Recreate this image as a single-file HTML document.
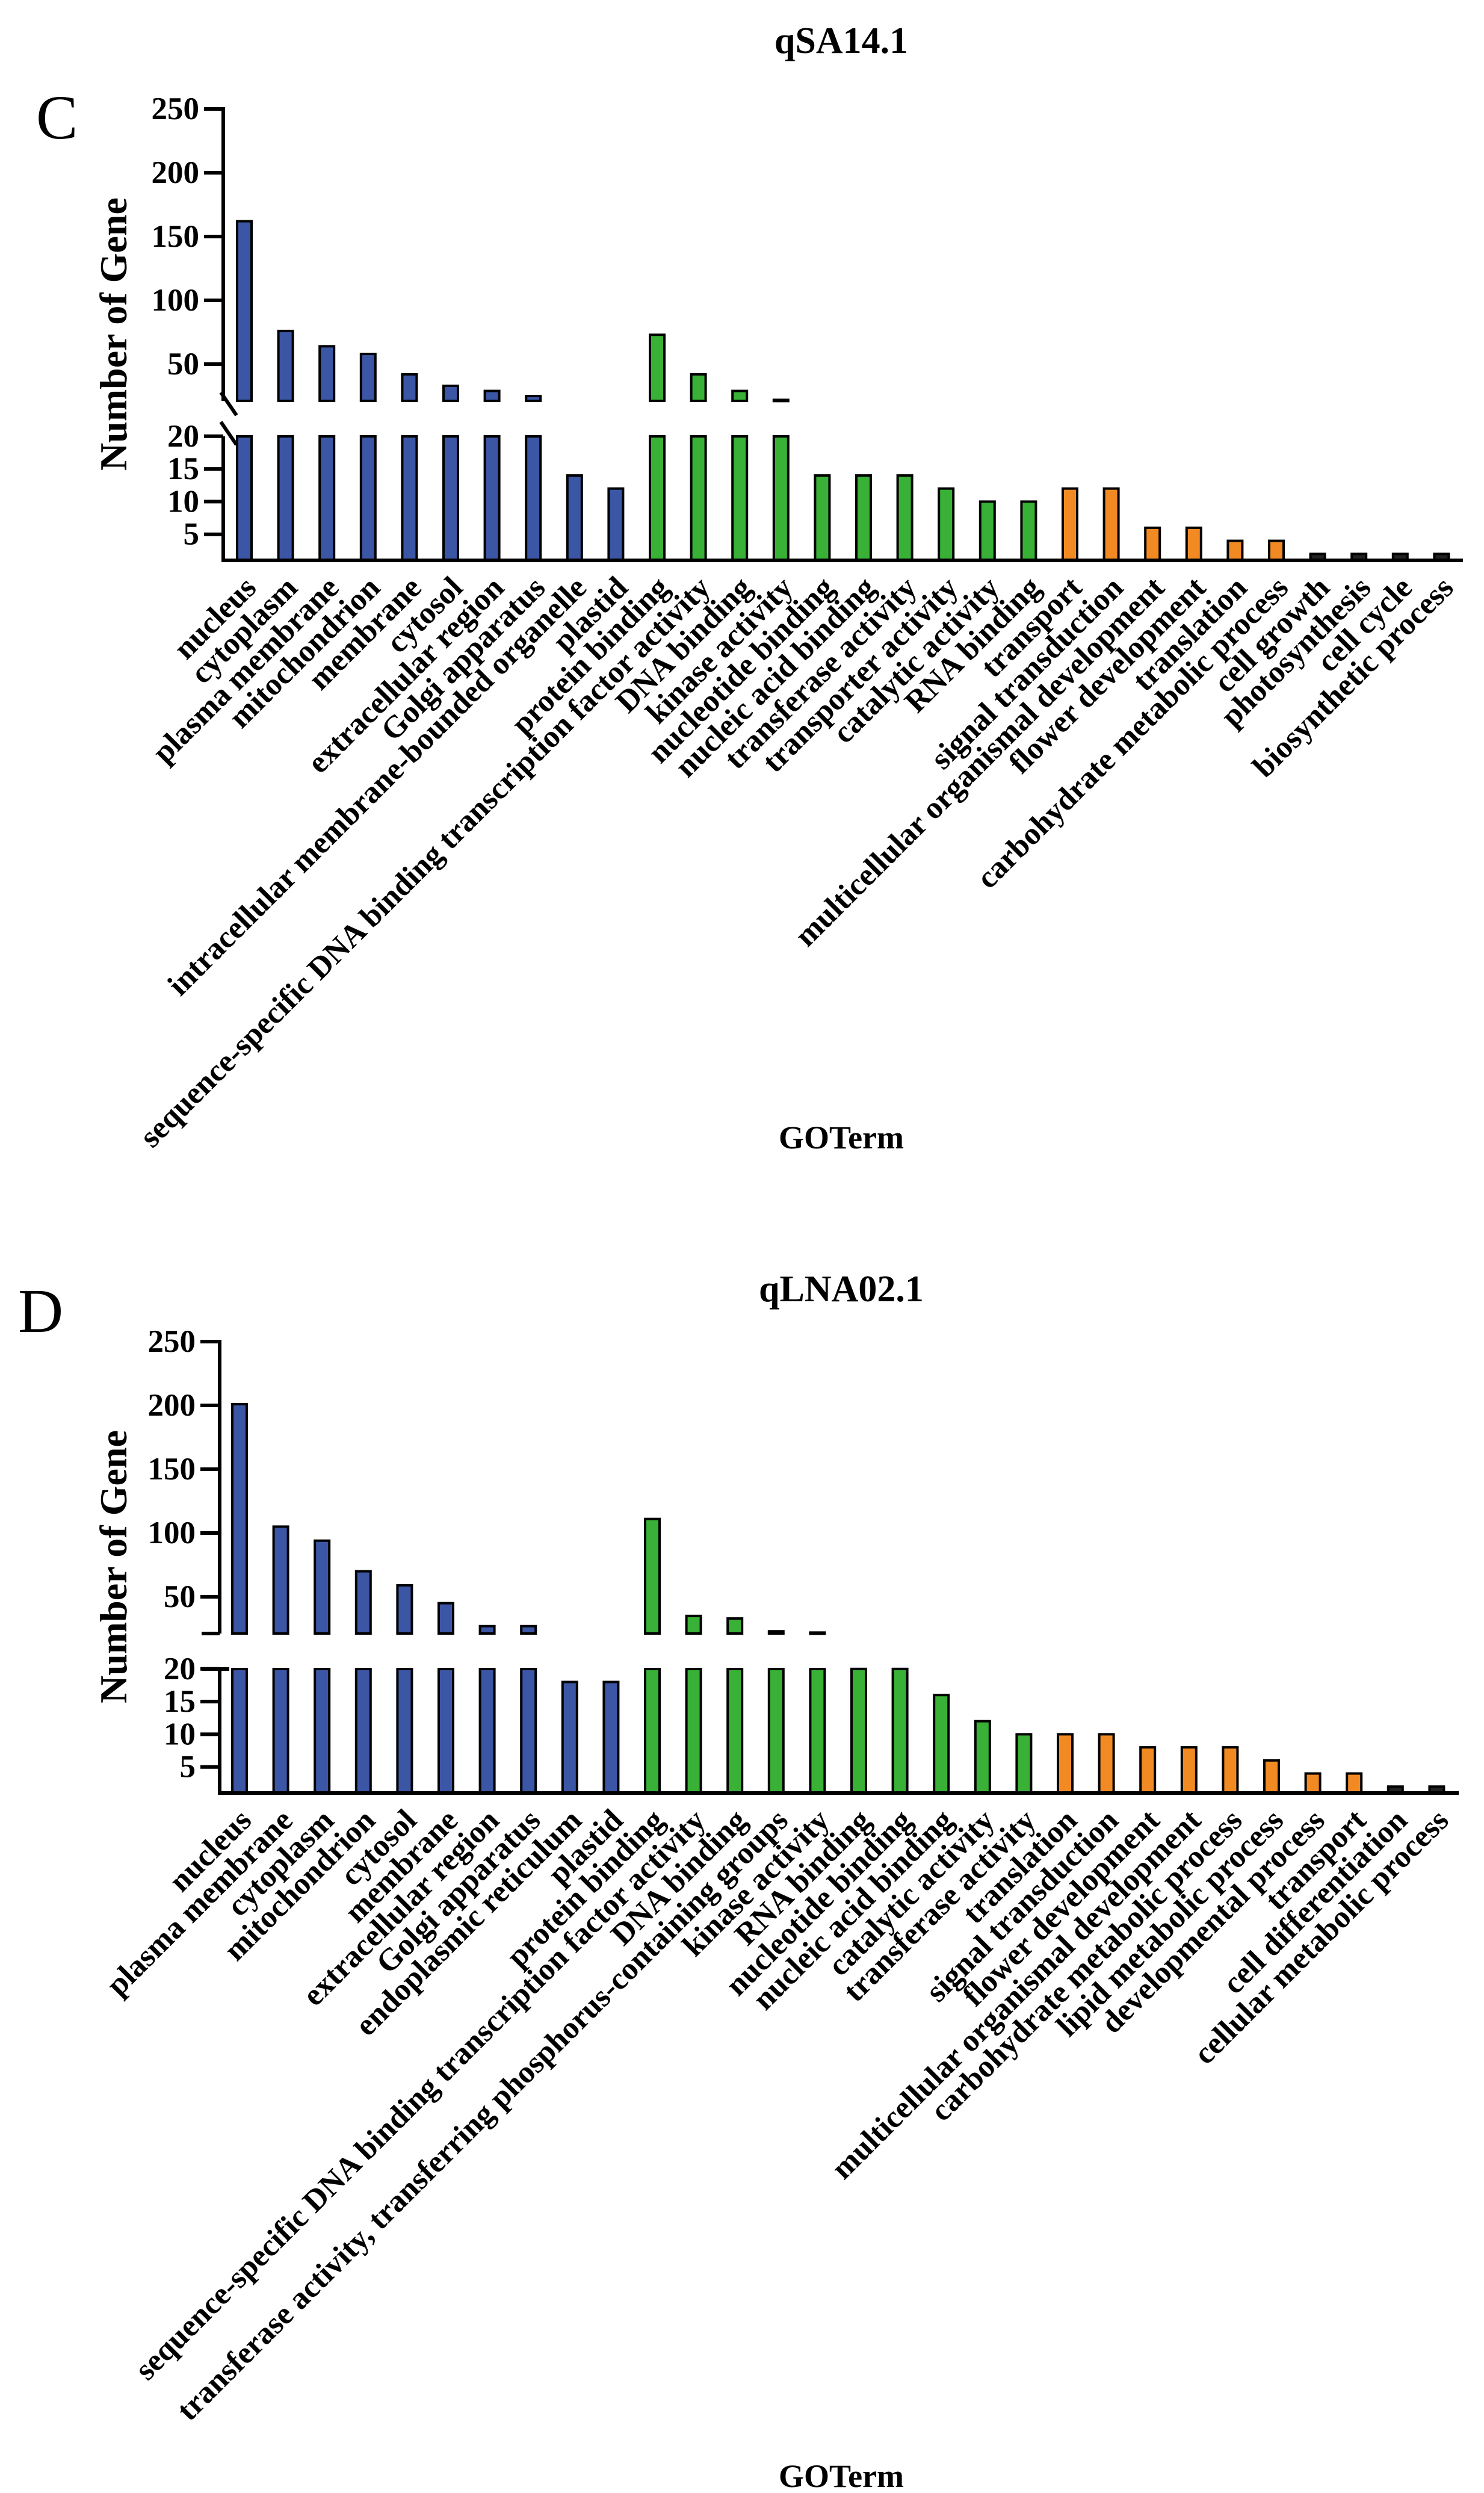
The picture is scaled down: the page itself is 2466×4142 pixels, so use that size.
<!DOCTYPE html>
<html><head><meta charset="utf-8"><style>
html,body{margin:0;padding:0;background:#fff}
svg{display:block}
text{font-family:"Liberation Serif",serif;fill:#000}
</style></head><body>
<svg id="fig" width="2466" height="4142" viewBox="0 0 2466 4142" xmlns="http://www.w3.org/2000/svg"></svg>
<script>
const catsC = ["nucleus","cytoplasm","plasma membrane","mitochondrion","membrane","cytosol","extracellular region","Golgi apparatus","intracellular membrane-bounded organelle","plastid","protein binding","sequence-specific DNA binding transcription factor activity","DNA binding","kinase activity","nucleotide binding","nucleic acid binding","transferase activity","transporter activity","catalytic activity","RNA binding","transport","signal transduction","multicellular organismal development","flower development","translation","carbohydrate metabolic process","cell growth","photosynthesis","cell cycle","biosynthetic process"];
const valsC = [162,76,64,58,42,33,29,25,14,12,73,42,29,22,14,14,14,12,10,10,12,12,6,6,4,4,2,2,2,2];
const groupsC = [0,0,0,0,0,0,0,0,0,0,1,1,1,1,1,1,1,1,1,1,2,2,2,2,2,2,3,3,3,3];
const catsD = ["nucleus","plasma membrane","cytoplasm","mitochondrion","cytosol","membrane","extracellular region","Golgi apparatus","endoplasmic reticulum","plastid","protein binding","sequence-specific DNA binding transcription factor activity","DNA binding","transferase activity, transferring phosphorus-containing groups","kinase activity","RNA binding","nucleotide binding","nucleic acid binding","catalytic activity","transferase activity","translation","signal transduction","flower development","multicellular organismal development","carbohydrate metabolic process","lipid metabolic process","developmental process","transport","cell differentiation","cellular metabolic process"];
const valsD = [201,105,94,70,59,45,27,27,18,18,111,35,33,23,22,20,20,16,12,10,10,10,8,8,8,6,4,4,2,2];
const groupsD = [0,0,0,0,0,0,0,0,0,0,1,1,1,1,1,1,1,1,1,1,2,2,2,2,2,2,2,2,3,3];
const upperTicks = [50,100,150,200,250];
const lowerTicks = [5,10,15,20];

const NS="http://www.w3.org/2000/svg";
const svg=document.getElementById('fig');
const colors=["#3b56a5","#38b136","#f28a24","#222"];
function mk(tag,attrs,parent){const e=document.createElementNS(NS,tag);for(const k in attrs)e.setAttribute(k,attrs[k]);(parent||svg).appendChild(e);return e;}

function drawChart(off,cfg){
  const g=mk('g',{});
  
  
  const axX=cfg.axX, x0=cfg.x0, step=cfg.step;
  const yU=v=>off+605-(v-50)*2.12;
  const yL=v=>off+942-v*10.86;
  const brkU=off+666, brkL=off+725, base=off+931;
  const xc=i=>x0+i*step;
  const L=mk('text',{x:cfg.letterX,y:off+cfg.letterY,'font-size':104},g);L.textContent=cfg.letter;
  
  
  const T=mk('text',{x:1398,y:off+cfg.titleY,'font-size':62,'font-weight':'bold','text-anchor':'middle'},g);T.textContent=cfg.title;
  
  
  const Y=mk('text',{x:0,y:0,'font-size':64,'font-weight':'bold','text-anchor':'middle',transform:`translate(210,${off+555}) rotate(-90)`},g);Y.textContent="Number of Gene";
  
  
  const X=mk('text',{x:1398,y:off+cfg.xtY,'font-size':54,'font-weight':'bold','text-anchor':'middle'},g);X.textContent="GOTerm";
  
  
  cfg.vals.forEach((v,i)=>{
    const fill=colors[cfg.groups[i]];
    const w=24, x=xc(i)-w/2;
    if(v>20){
      const top=yU(v);
      const r=mk('rect',{x:x,y:top,width:w,height:Math.max(brkU-top,2),fill:fill,stroke:'#000','stroke-width':4},g);
      
      
      const r2=mk('rect',{x:x,y:brkL,width:w,height:base-brkL,fill:fill,stroke:'#000','stroke-width':4},g);
      
      
    } else {
      const top=yL(v);
      const r=mk('rect',{x:x,y:top,width:w,height:Math.max(base-top,2),fill:fill,stroke:'#000','stroke-width':4},g);
      
      
    }
    const t=mk('text',{x:0,y:0,'font-size':52,'font-weight':'bold','text-anchor':'end','dominant-baseline':'middle',transform:`translate(${xc(i)+14},${base+40}) rotate(-45)`},g);
    t.textContent=cfg.cats[i];
    
    
  });
  mk('line',{x1:axX,y1:off+178,x2:axX,y2:brkU,stroke:'#000','stroke-width':6},g);
  mk('line',{x1:axX,y1:brkL,x2:axX,y2:base+3,stroke:'#000','stroke-width':6},g);
  mk('line',{x1:axX-3,y1:base,x2:cfg.axEnd,y2:base,stroke:'#000','stroke-width':6},g);
  if(cfg.slash){
    mk('line',{x1:axX-4,y1:brkU-14,x2:axX+22,y2:brkU+24,stroke:'#000','stroke-width':6},g);
    mk('line',{x1:axX-4,y1:brkL-24,x2:axX+22,y2:brkL+14,stroke:'#000','stroke-width':6},g);
  } else {
    mk('line',{x1:axX-30,y1:brkU,x2:axX,y2:brkU,stroke:'#000','stroke-width':6},g);
    mk('line',{x1:axX-30,y1:brkL,x2:axX+16,y2:brkL,stroke:'#000','stroke-width':6},g);
  }
  upperTicks.forEach(v=>{
    mk('line',{x1:axX-32,y1:yU(v),x2:axX,y2:yU(v),stroke:'#000','stroke-width':6},g);
    const t=mk('text',{x:axX-40,y:yU(v),'font-size':53,'font-weight':'bold','text-anchor':'end','dominant-baseline':'central'},g);t.textContent=v;
    
    
  });
  lowerTicks.forEach(v=>{
    mk('line',{x1:axX-32,y1:yL(v),x2:axX,y2:yL(v),stroke:'#000','stroke-width':6},g);
    const t=mk('text',{x:axX-40,y:yL(v),'font-size':53,'font-weight':'bold','text-anchor':'end','dominant-baseline':'central'},g);t.textContent=v;
    
    
  });
}
drawChart(0,{name:'chart-qsa14-1',letter:'C',letterX:60,letterY:230,title:'qSA14.1',titleY:88,xtY:1908,axX:371,x0:406,step:68.6,axEnd:2431,slash:true,cats:catsC,vals:valsC,groups:groupsC});
drawChart(2048,{name:'chart-qlna02-1',letter:'D',letterX:30,letterY:165,title:'qLNA02.1',titleY:114,xtY:2084,axX:365,x0:398,step:68.6,axEnd:2424,slash:false,cats:catsD,vals:valsD,groups:groupsD});
</script>
</body></html>
